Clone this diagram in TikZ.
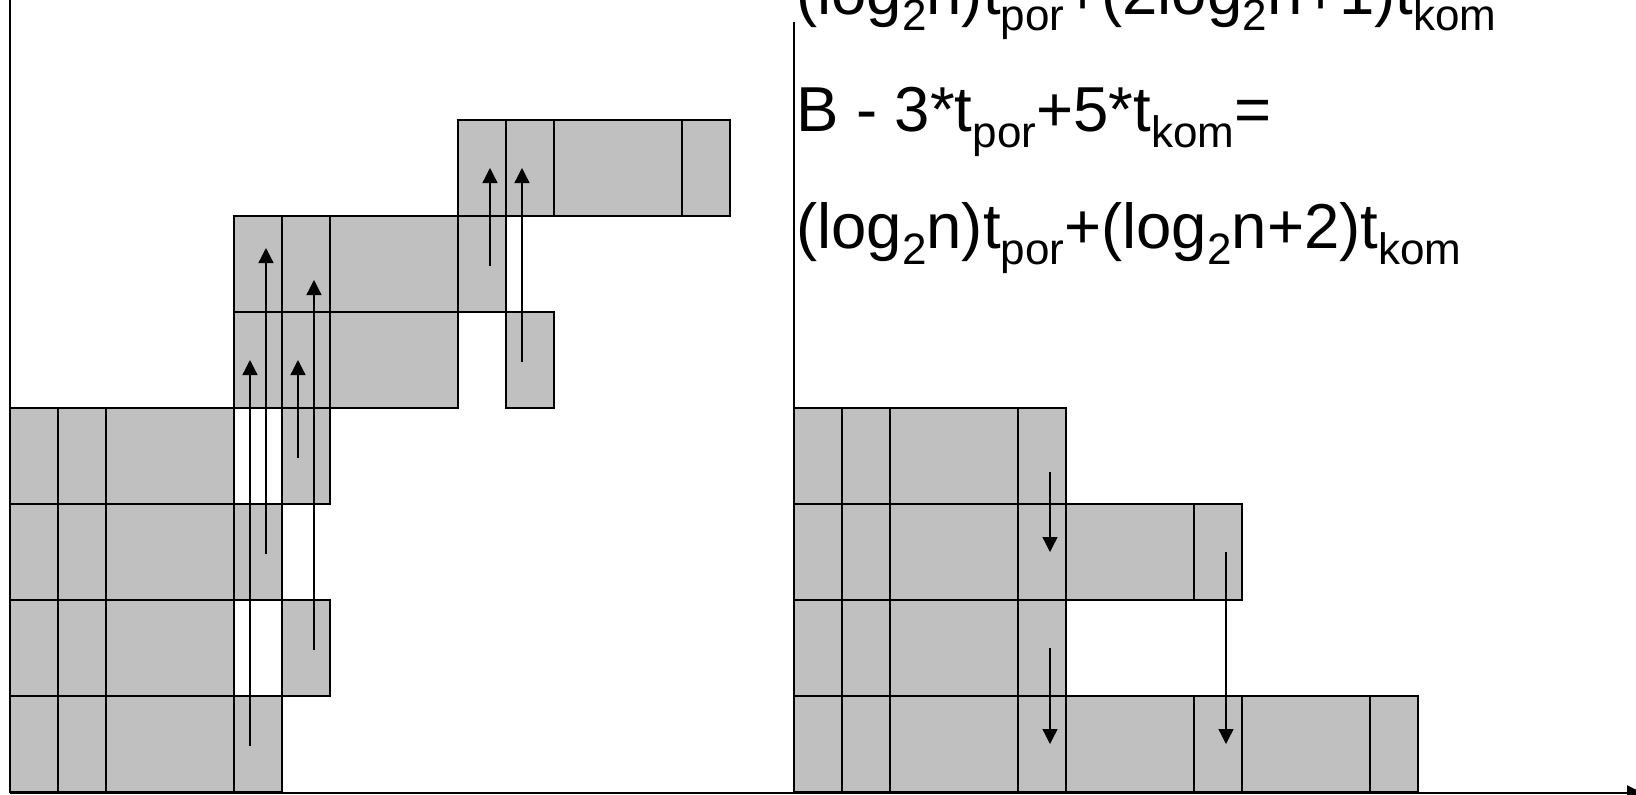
\documentclass[tikz,border=0pt]{standalone}
\usepackage{fontspec}
\setmainfont{Liberation Sans}
\usetikzlibrary{arrows.meta}
\definecolor{cellgray}{RGB}{192,192,192}
\newcommand\lo[1]{\raisebox{-16.5pt}{\fontsize{44}{44}\selectfont #1}}
\begin{document}
\begin{tikzpicture}[x=1pt,y=-1pt,
  cellbox/.style={draw=black, fill=cellgray, line width=1.5pt},
  flow/.style={line width=1.3pt, -{Triangle[length=15pt,width=15pt]}},
  axis/.style={line width=2pt},
  eq/.style={anchor=base west, inner sep=0pt, font=\fontsize{63.5}{63.5}\selectfont}]
\useasboundingbox (0,0) rectangle (1636,795);
% left group cells
\foreach \xa/\xb/\ya in {
  10/58/696, 58/106/696, 106/234/696, 234/282/696,
  10/58/600, 58/106/600, 106/234/600, 282/330/600,
  10/58/504, 58/106/504, 106/234/504, 234/282/504,
  10/58/408, 58/106/408, 106/234/408, 282/330/408,
  234/282/312, 282/330/312, 330/458/312, 506/554/312,
  234/282/216, 282/330/216, 330/458/216, 458/506/216,
  458/506/120, 506/554/120, 554/682/120, 682/730/120}
  \draw[cellbox] (\xa,\ya) rectangle (\xb,{\ya+96});
% right group cells
\foreach \xa/\xb/\ya in {
  794/842/408, 842/890/408, 890/1018/408, 1018/1066/408,
  794/842/504, 842/890/504, 890/1018/504, 1018/1066/504, 1066/1194/504, 1194/1242/504,
  794/842/600, 842/890/600, 890/1018/600, 1018/1066/600,
  794/842/696, 842/890/696, 890/1018/696, 1018/1066/696, 1066/1194/696, 1194/1242/696, 1242/1370/696, 1370/1418/696}
  \draw[cellbox] (\xa,\ya) rectangle (\xb,{\ya+96});
% axes
\coordinate (la1) at (10,0);
\coordinate (la2) at (10,793);
\coordinate (ra1) at (794,22);
\coordinate (ra2) at (794,793);
\coordinate (ba2) at (1643,793);
\draw[axis] (la1) -- (la2);
\draw[axis] (ra1) -- (ra2);
\draw[axis, -{Triangle[length=16pt,width=15pt]}] (la2) -- (ba2);
% arrow endpoints
\coordinate (s1) at (250,746); \coordinate (e1) at (250,360);
\coordinate (s2) at (266,554); \coordinate (e2) at (266,248);
\coordinate (s3) at (298,458); \coordinate (e3) at (298,360);
\coordinate (s4) at (314,650); \coordinate (e4) at (314,280);
\coordinate (s5) at (490,266); \coordinate (e5) at (490,168);
\coordinate (s6) at (522,362); \coordinate (e6) at (522,168);
\coordinate (s7) at (1050,472); \coordinate (e7) at (1050,552);
\coordinate (s8) at (1050,648); \coordinate (e8) at (1050,744);
\coordinate (s9) at (1226,552); \coordinate (e9) at (1226,744);
\foreach \i in {1,...,9} \draw[flow] (s\i) -- (e\i);
% text
\node[eq] (l1) at (796,14) {(log\lo{2}n)t\lo{por}+(2log\lo{2}n+1)t\lo{kom}};
\node[eq] (l2) at (796,131) {B - 3*t\lo{por}+5*t\lo{kom}=};
\node[eq] (l3) at (796,248) {(log\lo{2}n)t\lo{por}+(log\lo{2}n+2)t\lo{kom}};
\end{tikzpicture}
\end{document}
